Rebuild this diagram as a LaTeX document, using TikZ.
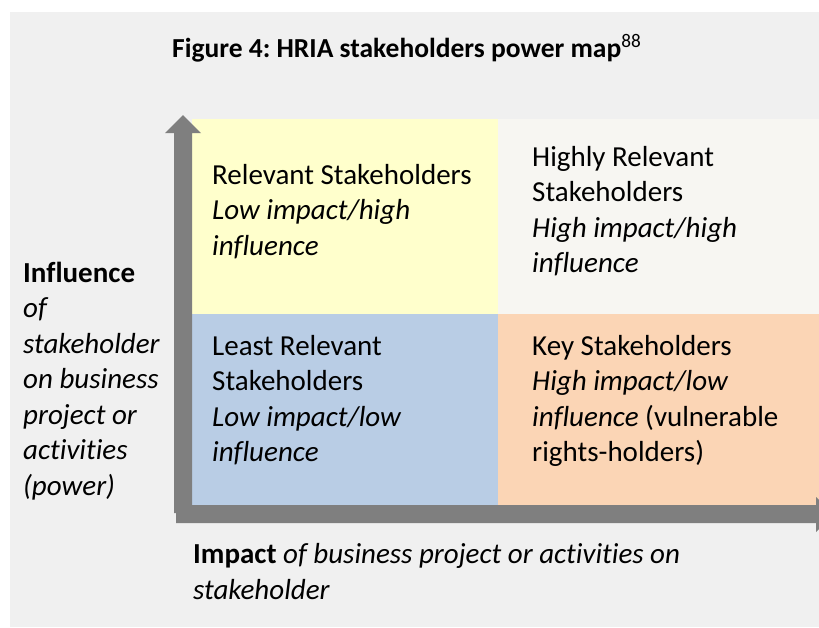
\documentclass[tikz,border=0pt]{standalone}
\usepackage{fontspec}
\setmainfont{Carlito}[Ligatures=NoCommon]
\frenchspacing
\newcommand{\qlines}[1]{\begin{tabular}[t]{@{}l@{}}#1\end{tabular}}
\begin{document}
\begin{tikzpicture}[x=1pt,y=-1pt,
  txt/.style={anchor=base west, inner sep=0pt, font=\fontsize{29}{35.5}\selectfont},
  ttl/.style={anchor=base west, inner sep=0pt, font=\fontsize{27.5}{32}\selectfont\bfseries}]
\definecolor{bggray}{HTML}{F0F0F0}
\definecolor{axisgray}{HTML}{7F7F7F}
\definecolor{qyellow}{HTML}{FFFFCC}
\definecolor{qwhite}{HTML}{F7F6F2}
\definecolor{qblue}{HTML}{B9CDE5}
\definecolor{qorange}{HTML}{FBD5B5}
\useasboundingbox (0,0) rectangle (819,627);
\fill[white] (0,0) rectangle (819,627);
\fill[bggray] (10,12) rectangle (819,627);
% quadrants
\fill[qyellow] (192,119) rectangle (498,314);
\fill[qwhite] (498,119) rectangle (819,314);
\fill[qblue] (192,314) rectangle (498,505);
\fill[qorange] (498,314) rectangle (819,505);
% axes
\begin{scope}
\clip (0,0) rectangle (819,627);
\fill[axisgray] (174,513) -- (174,133) -- (165,133) -- (183,115) -- (201,133) -- (192,133) -- (192,513) -- cycle;
\fill[axisgray] (176,505) -- (816,505) -- (816,497) -- (834,514.5) -- (816,532) -- (816,523) -- (176,523) -- cycle;
\end{scope}
% title
\node[ttl] (title) at (172,57) {Figure 4: HRIA stakeholders power map\textsuperscript{\mdseries 88}};
% quadrant texts
\node[txt] (tl) at (212,184) {\qlines{Relevant Stakeholders\\ \textit{Low impact/high}\\ \textit{influence}}};
\node[txt] (tr) at (532,166) {\qlines{Highly Relevant\\ Stakeholders\\ \textit{High impact/high}\\ \textit{influence}}};
\node[txt] (bl) at (212,355) {\qlines{Least Relevant\\ Stakeholders\\ \textit{Low impact/low}\\ \textit{influence}}};
\node[txt] (br) at (532,355) {\qlines{Key Stakeholders\\ \textit{High impact/low}\\ \textit{influence} (vulnerable\\ rights-holders)}};
% axis labels
\node[txt] (ylab) at (23,282) {\qlines{\textbf{Influence}\\ \textit{of}\\ \textit{stakeholder}\\ \textit{on business}\\ \textit{project or}\\ \textit{activities}\\ \textit{(power)}}};
\node[txt] (xlab) at (193,563.5) {\qlines{\textbf{Impact} \textit{of business project or activities on}\\ \textit{stakeholder}}};
\end{tikzpicture}
\end{document}
